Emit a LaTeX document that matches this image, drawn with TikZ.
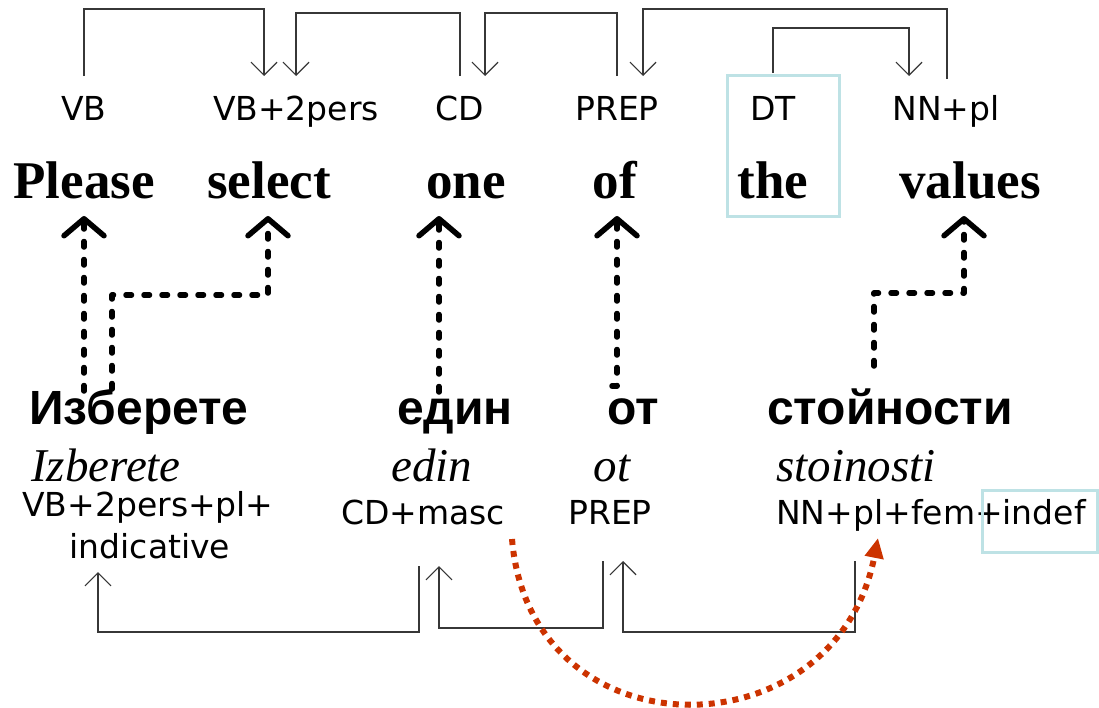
\documentclass[tikz,border=0pt]{standalone}
\usepackage{fontspec}
\setmainfont{Liberation Serif}
\newfontfamily\tagfont{DejaVu Sans}
\newfontfamily\cyrfont{Liberation Sans}
\usetikzlibrary{arrows.meta,calc}
\definecolor{hilite}{RGB}{190,226,229}
\definecolor{rust}{RGB}{204,51,0}
\definecolor{arcgray}{RGB}{55,55,55}

\begin{document}
\begin{tikzpicture}[x=1pt,y=-1pt,
  every node/.style={inner sep=0pt, anchor=base},
  tagtext/.style={font=\tagfont\fontsize{33}{38}\selectfont},
  eng/.style={font=\fontsize{53}{60}\selectfont\bfseries},
  cyr/.style={font=\cyrfont\fontsize{48}{54}\selectfont\bfseries},
  translit/.style={font=\fontsize{47}{54}\selectfont\itshape},
  deparc/.style={draw=arcgray, line width=1.2pt, -{Straight Barb[length=13pt,width=26pt]}},
  linkup/.style={draw=black, line width=5.5pt, line cap=round, line join=round,
    dash pattern=on 5.5pt off 12.5pt,
    -{Straight Barb[length=17pt,width=40pt,line cap=round,line join=round]}},
  boxmark/.style={draw=hilite, line width=3pt},
  reorder/.style={draw=rust, line width=6pt, dash pattern=on 6pt off 6pt,
    -{Triangle[length=20pt,width=18pt]}},
]
\useasboundingbox (0,0) rectangle (1099,707);

% English part-of-speech tags
\node[tagtext] (t1) at (84,120)  {VB};
\node[tagtext] (t2) at (296,120) {VB+2pers};
\node[tagtext] (t3) at (460,120) {CD};
\node[tagtext] (t4) at (617,120) {PREP};
\node[tagtext] (t5) at (773,120) {DT};
\node[tagtext] (t6) at (946,120) {NN+pl};

% English sentence
\node[eng] (e1) at (84,198)  {Please};
\node[eng] (e2) at (269,198) {select};
\node[eng] (e3) at (466,198) {one};
\node[eng] (e4) at (615,198) {of};
\node[eng] (e5) at (773,198) {the};
\node[eng] (e6) at (970,198) {values};

% Bulgarian sentence, transliteration and tags
\node[cyr] (c1) at (139,424) {Изберете};
\node[cyr] (c2) at (455,424) {един};
\node[cyr] (c3) at (633,424) {от};
\node[cyr] (c4) at (890,424) {стойности};

\node[translit] (i1) at (106,481) {Izberete};
\node[translit] (i2) at (432,481) {edin};
\node[translit] (i3) at (612,481) {ot};
\node[translit] (i4) at (856,481) {stoinosti};

\node[tagtext] (g1)  at (148,516) {VB+2pers+pl+};
\node[tagtext] (g1x) at (150,558) {indicative};
\node[tagtext] (g2)  at (423,524) {CD+masc};
\node[tagtext] (g3)  at (610,524) {PREP};
\node[tagtext] (g4)  at (931,524) {NN+pl+fem+indef};

% highlighted article and suffix
\draw[boxmark] (727,75) rectangle (839,216);
\draw[boxmark] (982,490) rectangle (1097,552);

% English dependency arcs
\draw[deparc] ($(t1.base)+(0,-44)$) -- ++(0,-67) -| ($(t2.base)+(-32,-44)$);
\draw[deparc] ($(t3.base)+(0,-44)$) -- ++(0,-63) -| ($(t2.base)+(0,-44)$);
\draw[deparc] ($(t4.base)+(0,-44)$) -- ++(0,-63) -| ($(t3.base)+(25,-44)$);
\draw[deparc] ($(t6.base)+(1,-41)$) -- ++(0,-70) -| ($(t4.base)+(26,-44)$);
\draw[deparc] ($(t5.base)+(0,-47)$) -- ++(0,-45) -| ($(t6.base)+(-37,-44)$);

% Bulgarian dependency arcs
\draw[deparc] ($(g2.base)+(-4,42)$) -- ++(0,66) -| ($(g1x.base)+(-52,14)$);
\draw[deparc] ($(g3.base)+(-7,37)$) -- ++(0,67) -| ($(g2.base)+(16,42)$);
\draw[deparc] ($(g4.base)+(-76,37)$) -- ++(0,71) -| ($(g3.base)+(13,37)$);

% word alignment links
\draw[linkup] ($(e1.base |- c1.base)+(0,-33)$) -- ($(e1.base)+(0,18)$);
\draw[linkup] ($(c1.base)+(-27,-35)$) |- ($(e2.base)+(-1,97)$) -- ($(e2.base)+(-1,18)$);
\draw[linkup] ($(c2.base)+(-16,-32)$) -- ($(e3.base)+(-27,18)$);
\draw[linkup] ($(c3.base)+(-21,-38)$) -| ($(e4.base)+(2,18)$);
\draw[linkup] ($(c4.base)+(-16,-58)$) |- ($(e6.base)+(-6,95)$) -- ($(e6.base)+(-6,18)$);

% reordering of the definiteness feature
\draw[reorder] ($(g2.base)+(89,15)$) .. controls ($(g2.base)+(107,233)$) and ($(g4.base)+(-96,233)$) .. ($(g4.base)+(-53,14)$);
\end{tikzpicture}
\end{document}
